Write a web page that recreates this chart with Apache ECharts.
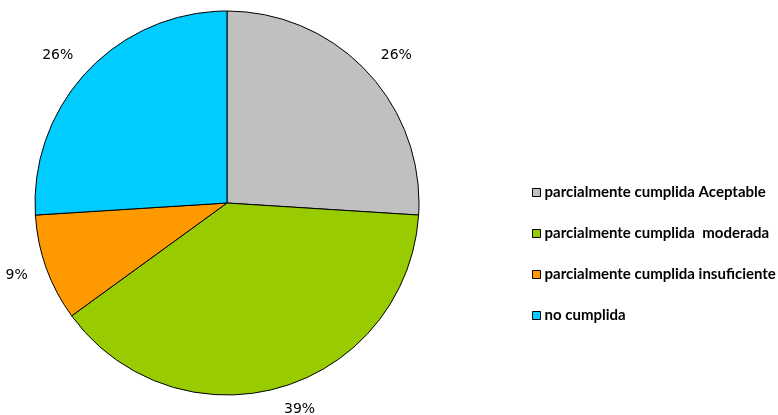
<!DOCTYPE html>
<html>
<head>
<meta charset="utf-8">
<script src="https://cdn.jsdelivr.net/npm/echarts@6/dist/echarts.min.js"></script>
<style>
html,body{margin:0;padding:0;background:#fff;}
#c{width:778px;height:415px;}
</style>
</head>
<body>
<div id="c"></div>
<script>
const categories = ['parcialmente cumplida Aceptable', 'parcialmente cumplida  moderada', 'parcialmente cumplida insuficiente', 'no cumplida'];
const values = [26, 39, 9, 26];
const colors = ['#C0C0C0', '#99CC00', '#FF9900', '#00CCFF'];

const chart = echarts.init(document.getElementById('c'), null, {renderer: 'canvas'});
chart.setOption({
  backgroundColor: '#ffffff',
  animation: false,
  legend: {
    orient: 'vertical',
    left: 527,
    top: 180,
    itemWidth: 8,
    itemHeight: 8,
    itemGap: 26,
    icon: 'rect',
    itemStyle: {borderColor: '#000', borderWidth: 1},
    textStyle: {fontFamily: 'Lato', fontWeight: 'bold', fontSize: 15, color: '#000', lineHeight: 15, padding: [0, 0, 0, -1]},
    data: categories
  },
  series: [{
    type: 'pie',
    center: [227, 203],
    radius: 192,
    startAngle: 90,
    clockwise: true,
    avoidLabelOverlap: false,
    itemStyle: {borderColor: '#000', borderWidth: 1},
    label: {
      show: true,
      position: 'outside',
      formatter: '{d}%',
      fontFamily: 'DejaVu Sans',
      fontSize: 14,
      color: '#000',
      distanceToLabelLine: 0
    },
    labelLine: {show: false, length: 23, length2: -3},
    emphasis: {disabled: true},
    data: categories.map((n, i) => ({name: n, value: values[i], itemStyle: {color: colors[i]}}))
  }]
});
</script>
</body>
</html>
